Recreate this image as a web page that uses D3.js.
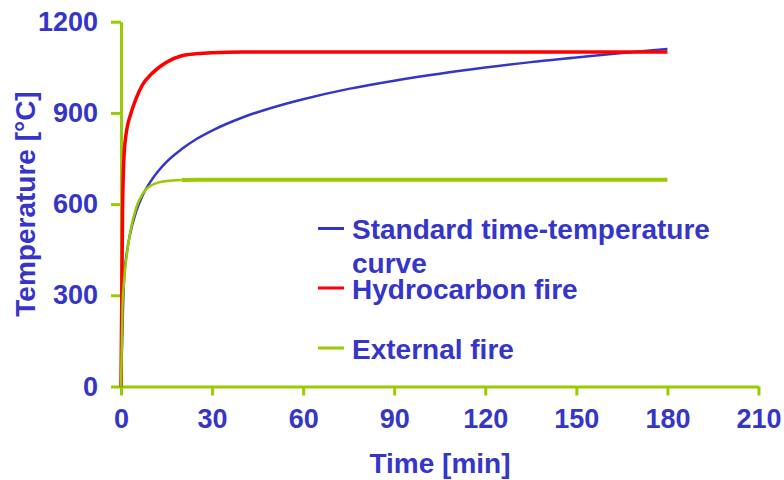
<!DOCTYPE html>
<html>
<head>
  <meta charset="utf-8">
  <script src="https://d3js.org/d3.v7.min.js"></script>
  <style>
    body { margin: 0; background: #fff; }
    text { font-family: Arial, "Liberation Sans", sans-serif; font-weight: bold; fill: #3535c8; }
  </style>
</head>
<body>
  <div id="chart"></div>
</body>
</html>

<script>
  // tick labels
  var xTicks = [0, 30, 60, 90, 120, 150, 180, 210];
  var yTicks = [0, 300, 600, 900, 1200];

  // standard time-temperature curve
  var stdTime = [0, 1, 2, 3, 5, 7, 10, 15, 20, 25, 30, 40, 50, 60, 75, 90, 105, 120, 135, 150, 165, 180];
  var stdTemp = [0, 349, 445, 502, 576, 626, 678, 739, 781, 815, 842, 885, 918, 945, 979, 1006, 1029, 1049, 1067, 1082, 1097, 1110];

  // hydrocarbon fire
  var hcTime = [0, 0.5, 1, 2, 3, 5, 7, 10, 15, 20, 25, 30, 40, 180];
  var hcTemp = [0, 568, 760, 850, 890, 948, 991, 1028, 1067, 1088, 1095, 1098, 1100, 1100];

  // external fire
  var extTime = [0, 0.5, 1, 2, 3, 5, 7, 10, 15, 20, 25, 180];
  var extTemp = [0, 263, 346, 441, 506, 588, 632, 662, 676, 679, 680, 680];

  var seriesNames = ["Standard time-temperature", "Hydrocarbon fire", "External fire"];
  var seriesColors = ["#3535c8", "#ff0000", "#99cc00"];

  var width = 784, height = 480;
  var axisColor = "#99cc00";

  var svg = d3.select("#chart")
    .append("svg")
      .attr("width", width)
      .attr("height", height);

  var x = d3.scaleLinear().domain([0, 210]).range([121, 758.5]);
  var y = d3.scaleLinear().domain([0, 1200]).range([386.5, 21.7]);

  // X axis
  var xAxis = svg.append("g")
    .attr("transform", "translate(0," + y(0) + ")")
    .call(d3.axisBottom(x).tickValues(xTicks).tickFormat(d3.format("d"))
      .tickSize(9).tickPadding(13).tickSizeOuter(0));

  // Y axis
  var yAxis = svg.append("g")
    .attr("transform", "translate(" + x(0) + ",0)")
    .call(d3.axisLeft(y).tickValues(yTicks).tickFormat(d3.format("d"))
      .tickSize(10).tickPadding(13).tickSizeOuter(0));

  [xAxis, yAxis].forEach(function (a) {
    a.select(".domain").attr("stroke", axisColor).attr("stroke-width", 3);
    a.selectAll(".tick line").attr("stroke", axisColor).attr("stroke-width", 3);
    a.selectAll(".tick text")
      .attr("fill", "#3535c8")
      .style("font-size", "27px")
      .style("font-family", "Arial, 'Liberation Sans', sans-serif")
      .style("font-weight", "bold");
  });

  // axis titles
  svg.append("text")
    .attr("x", 440)
    .attr("y", 473)
    .attr("text-anchor", "middle")
    .style("font-size", "28px")
    .text("Time [min]");

  svg.append("text")
    .attr("transform", "translate(35,204) rotate(-90)")
    .attr("text-anchor", "middle")
    .style("font-size", "28px")
    .text("Temperature [°C]");

  // lines
  var line = d3.line()
    .x(function (d) { return x(d[0]); })
    .y(function (d) { return y(d[1]); })
    .curve(d3.curveMonotoneX);

  function drawPath(data, color, w) {
    svg.append("path")
      .datum(data)
      .attr("fill", "none")
      .attr("stroke", color)
      .attr("stroke-width", w)
      .attr("stroke-linejoin", "round")
      .attr("d", line);
  }

  drawPath(d3.zip(stdTime, stdTemp), seriesColors[0], 2.5);
  drawPath(d3.zip(hcTime, hcTemp), seriesColors[1], 3.5);

  // external fire: thin rise, thicker plateau (as in the picture)
  var ext = d3.zip(extTime, extTemp);
  var split = extTime.indexOf(20);
  drawPath(ext.slice(0, split + 1), seriesColors[2], 2.5);
  drawPath(ext.slice(split), seriesColors[2], 4);

  // legend
  var legendY = [228.5, 288, 348];
  var legend = svg.append("g");
  seriesNames.forEach(function (name, i) {
    legend.append("line")
      .attr("x1", 318).attr("x2", 344)
      .attr("y1", legendY[i]).attr("y2", legendY[i])
      .attr("stroke", seriesColors[i])
      .attr("stroke-width", 3);
  });
  legend.append("text").attr("x", 352).attr("y", 239).style("font-size", "28px").text("Standard time-temperature");
  legend.append("text").attr("x", 352).attr("y", 273).style("font-size", "28px").text("curve");
  legend.append("text").attr("x", 352).attr("y", 299).style("font-size", "28px").text("Hydrocarbon fire");
  legend.append("text").attr("x", 352).attr("y", 359).style("font-size", "28px").text("External fire");
</script>
